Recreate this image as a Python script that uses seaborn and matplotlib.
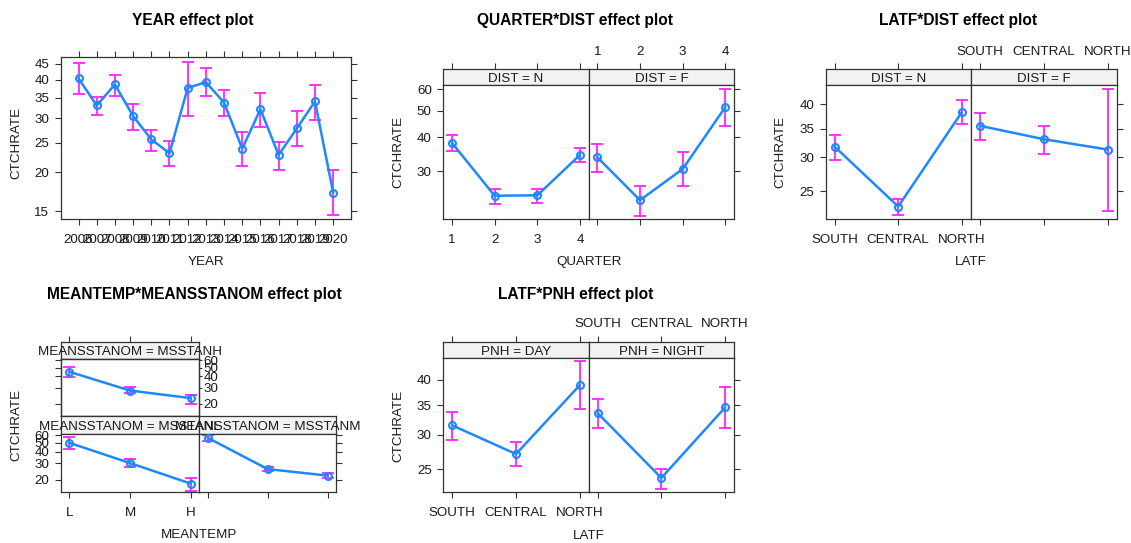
import numpy as np
import pandas as pd
import matplotlib
matplotlib.use("Agg")
import matplotlib.pyplot as plt
import seaborn as sns
from matplotlib.ticker import FixedLocator, NullLocator, FixedFormatter

# ---------------- data ----------------
years = ['2006', '2007', '2008', '2009', '2010', '2011', '2012', '2013',
         '2014', '2015', '2016', '2017', '2018', '2019', '2020']
year_fit = [40.4, 33.0, 38.6, 30.5, 25.6, 23.1, 37.6, 39.3, 33.7, 23.9, 32.1, 22.8, 27.8, 34.0, 17.2]
year_lo = [36.0, 30.7, 35.5, 27.5, 23.5, 21.0, 30.6, 35.3, 30.6, 21.0, 28.2, 20.4, 24.4, 29.6, 14.6]
year_hi = [45.4, 35.1, 41.5, 33.4, 27.5, 25.4, 45.7, 43.5, 37.0, 27.0, 36.1, 25.2, 31.6, 38.4, 20.4]

quarters = ['1', '2', '3', '4']
qd_n_fit = [38.2, 24.4, 24.5, 34.5]
qd_n_lo = [35.6, 22.8, 23.0, 32.4]
qd_n_hi = [40.9, 25.8, 25.8, 36.6]
qd_f_fit = [33.8, 23.5, 30.6, 51.7]
qd_f_lo = [29.8, 20.6, 26.4, 44.0]
qd_f_hi = [37.9, 26.4, 35.2, 60.3]

latf = ['SOUTH', 'CENTRAL', 'NORTH']
ld_n_fit = [31.8, 23.0, 38.3]
ld_n_lo = [29.6, 22.0, 35.9]
ld_n_hi = [33.9, 24.0, 40.9]
ld_f_fit = [35.6, 33.1, 31.3]
ld_f_lo = [32.9, 30.6, 22.4]
ld_f_hi = [38.2, 35.5, 43.5]

meantemp = ['L', 'M', 'H']
mm_h_fit = [45.0, 28.0, 23.1]
mm_h_lo = [39.0, 26.2, 19.8]
mm_h_hi = [50.7, 30.5, 25.3]
mm_l_fit = [50.0, 30.2, 18.1]
mm_l_lo = [43.1, 27.1, 15.2]
mm_l_hi = [58.0, 33.4, 20.8]
mm_m_fit = [56.6, 26.0, 22.1]
mm_m_lo = [52.1, 25.0, 20.7]
mm_m_hi = [61.0, 27.4, 23.4]

lp_day_fit = [31.5, 27.1, 38.9]
lp_day_lo = [29.1, 25.4, 34.3]
lp_day_hi = [33.8, 28.8, 44.1]
lp_night_fit = [33.6, 23.9, 34.6]
lp_night_lo = [31.1, 22.5, 31.0]
lp_night_hi = [36.1, 25.1, 38.5]

# ---------------- style ----------------
sns.set_theme(style="ticks")
plt.rcParams['font.family'] = ['Liberation Sans', 'DejaVu Sans']

BLUE = '#1E88FF'
MAG = '#FF33FF'
EDGE = '#333333'
TXT = '#1a1a1a'
STRIP = '#F2F2F2'
FS = 9.6
SFS = 9.6
TFS = 11.2
TL = 4.3

W, H = 1131, 543
fig = plt.figure(figsize=(W / 100, H / 100), dpi=100)


def add_ax(x0, y0, x1, y1):
    return fig.add_axes([x0 / W, 1 - y1 / H, (x1 - x0) / W, (y1 - y0) / H])


def T(x, y, s, **kw):
    kw.setdefault('fontsize', FS)
    kw.setdefault('color', TXT)
    kw.setdefault('ha', 'center')
    kw.setdefault('va', 'center')
    return fig.text(x / W, 1 - y / H, s, **kw)


def frame(ax):
    for s in ax.spines.values():
        s.set_color(EDGE)
        s.set_linewidth(0.9)
    ax.tick_params(which='major', direction='out', length=TL, width=0.8,
                   color=EDGE, labelsize=FS, labelcolor=TXT)
    ax.set_xlabel('')
    ax.set_ylabel('')


def log_y(ax, ylim, yticks):
    ax.set_yscale('log')
    ax.set_ylim(*ylim)
    ax.yaxis.set_major_locator(FixedLocator(yticks))
    ax.yaxis.set_major_formatter(FixedFormatter([str(v) for v in yticks]))
    ax.yaxis.set_minor_locator(NullLocator())


def cat_x(ax, labels, xlim):
    ax.set_xlim(*xlim)
    ax.xaxis.set_major_locator(FixedLocator(np.arange(len(labels))))
    ax.xaxis.set_major_formatter(FixedFormatter(labels))
    ax.xaxis.set_minor_locator(NullLocator())


def draw_effect(ax, labels, fit, lo, hi, capsize=4.3):
    x = np.arange(len(labels))
    fit = np.asarray(fit, float)
    lo = np.asarray(lo, float)
    hi = np.asarray(hi, float)
    ax.errorbar(x, fit, yerr=[fit - lo, hi - fit], fmt='none', ecolor=MAG,
                elinewidth=1.4, capsize=capsize, capthick=1.4, zorder=2)
    df = pd.DataFrame({'x': x, 'fit': fit})
    sns.lineplot(data=df, x='x', y='fit', ax=ax, color=BLUE, lw=1.8,
                 marker='o', markersize=5, mfc='none', mec=BLUE, mew=1.5,
                 zorder=3)
    ax.set_xlabel('')
    ax.set_ylabel('')


def strip_ax(x0, y0, x1, y1, labels, xlim, show_labels):
    s = add_ax(x0, y0, x1, y1)
    s.set_facecolor(STRIP)
    cat_x(s, labels, xlim)
    s.set_yticks([])
    frame(s)
    s.tick_params(axis='x', top=True, bottom=False, labeltop=show_labels,
                  labelbottom=False, pad=4.0)
    s.tick_params(axis='y', left=False, right=False, labelleft=False)
    return s


def panel_ticks(ax, left, labelleft, right, bottom, labelbottom, top=False, labeltop=False):
    ax.tick_params(axis='y', left=left, labelleft=labelleft, right=right,
                   labelright=False, pad=4.0)
    ax.tick_params(axis='x', bottom=bottom, labelbottom=labelbottom,
                   top=top, labeltop=labeltop, pad=6.5)


# ---------------- Panel 1: YEAR ----------------
ax = add_ax(60.7, 57, 351, 219)
log_y(ax, (14.13, 47.4), [15, 20, 25, 30, 35, 40, 45])
draw_effect(ax, years, year_fit, year_lo, year_hi)
cat_x(ax, years, (-0.98, 14.98))
log_y(ax, (14.13, 47.4), [15, 20, 25, 30, 35, 40, 45])
frame(ax)
panel_ticks(ax, True, True, True, True, True, top=True, labeltop=False)
T(193, 21, 'YEAR effect plot', fontsize=TFS, fontweight='bold', color='black')
T(16, 143, 'CTCHRATE', rotation=90)
T(206, 262, 'YEAR')


# ---------------- two-panel helper ----------------
def two_panel(x0, xm, x1, ys, yp, yb, labels, xlim, ylim, yticks,
              left_data, right_data, strip_texts):
    axes = []
    for i, (a, b, data) in enumerate([(x0, xm, left_data), (xm, x1, right_data)]):
        s = strip_ax(a, ys, b, yp, labels, xlim, show_labels=(i == 1))
        p = add_ax(a, yp, b, yb)
        log_y(p, ylim, yticks)
        draw_effect(p, labels, *data)
        cat_x(p, labels, xlim)
        log_y(p, ylim, yticks)
        frame(p)
        if i == 0:
            panel_ticks(p, True, True, False, True, True)
        else:
            panel_ticks(p, False, False, True, True, False)
        T((a + b) / 2, (ys + yp) / 2 + 2, strip_texts[i], fontsize=SFS, zorder=10)
        axes.append(p)
    return axes


# ---------------- Panel 2: QUARTER*DIST ----------------
two_panel(443.3, 588.7, 734, 69.3, 85, 219, quarters, (-0.2, 3.2),
          (20.05, 62.2), [30, 40, 50, 60],
          (qd_n_fit, qd_n_lo, qd_n_hi), (qd_f_fit, qd_f_lo, qd_f_hi),
          ['DIST = N', 'DIST = F'])
T(575, 21, 'QUARTER*DIST effect plot', fontsize=TFS, fontweight='bold', color='black')
T(398.3, 152, 'CTCHRATE', rotation=90)
T(589, 262, 'QUARTER')

# ---------------- Panel 3: LATF*DIST ----------------
two_panel(825.7, 970.7, 1116.7, 69.3, 85.3, 219, latf, (-0.14, 2.14),
          (21.5, 44.3), [25, 30, 35, 40],
          (ld_n_fit, ld_n_lo, ld_n_hi), (ld_f_fit, ld_f_lo, ld_f_hi),
          ['DIST = N', 'DIST = F'])
T(958, 21, 'LATF*DIST effect plot', fontsize=TFS, fontweight='bold', color='black')
T(780, 152, 'CTCHRATE', rotation=90)
T(970.7, 262, 'LATF')

# ---------------- Panel 5: LATF*PNH ----------------
two_panel(443.3, 588.7, 734, 341.7, 358.3, 492, latf, (-0.14, 2.14),
          (22.2, 44.8), [25, 30, 35, 40],
          (lp_day_fit, lp_day_lo, lp_day_hi), (lp_night_fit, lp_night_lo, lp_night_hi),
          ['PNH = DAY', 'PNH = NIGHT'])
T(576, 295, 'LATF*PNH effect plot', fontsize=TFS, fontweight='bold', color='black')
T(398, 425.5, 'CTCHRATE', rotation=90)
T(589, 536, 'LATF')

# ---------------- Panel 4: MEANTEMP*MEANSSTANOM ----------------
mx = (-0.14, 2.14)
my = (14.7, 63.0)
myt = [20, 30, 40, 50, 60]

# top-left (MSSTANH)
s = strip_ax(60.7, 342, 199.3, 358.5, meantemp, mx, show_labels=False)
p = add_ax(60.7, 358.5, 199.3, 416)
log_y(p, my, myt)
draw_effect(p, meantemp, mm_h_fit, mm_h_lo, mm_h_hi)
cat_x(p, meantemp, mx)
log_y(p, my, myt)
frame(p)
panel_ticks(p, True, False, False, False, False)
tw = p.twinx()
log_y(tw, my, myt)
frame(tw)
tw.tick_params(axis='y', left=False, labelleft=False, right=True, labelright=True,
               length=2, pad=1)
tw.tick_params(axis='x', bottom=False, labelbottom=False, top=False)

# bottom-left (MSSTANL)
s = strip_ax(60.7, 416, 199.3, 433.5, meantemp, mx, show_labels=False)
s.tick_params(axis='x', top=False)
p = add_ax(60.7, 433.5, 199.3, 492)
log_y(p, my, myt)
draw_effect(p, meantemp, mm_l_fit, mm_l_lo, mm_l_hi)
cat_x(p, meantemp, mx)
log_y(p, my, myt)
frame(p)
panel_ticks(p, True, True, False, True, True)

# bottom-right (MSSTANM)
s = strip_ax(199.3, 416, 336, 433.5, meantemp, mx, show_labels=False)
s.tick_params(axis='x', top=False)
p = add_ax(199.3, 433.5, 336, 492)
log_y(p, my, myt)
draw_effect(p, meantemp, mm_m_fit, mm_m_lo, mm_m_hi)
cat_x(p, meantemp, mx)
log_y(p, my, myt)
frame(p)
panel_ticks(p, False, False, True, True, False)

T(130, 352, 'MEANSSTANOM = MSSTANH', fontsize=SFS, zorder=10)
T(130, 427, 'MEANSSTANOM = MSSTANL', fontsize=SFS, zorder=10)
T(267.7, 427, 'MEANSSTANOM = MSSTANM', fontsize=SFS, zorder=10)
T(194, 295, 'MEANTEMP*MEANSSTANOM effect plot', fontsize=TFS, fontweight='bold', color='black')
T(16, 425, 'CTCHRATE', rotation=90)
T(199, 535, 'MEANTEMP')

fig.savefig('out.png', dpi=100, facecolor='white')
